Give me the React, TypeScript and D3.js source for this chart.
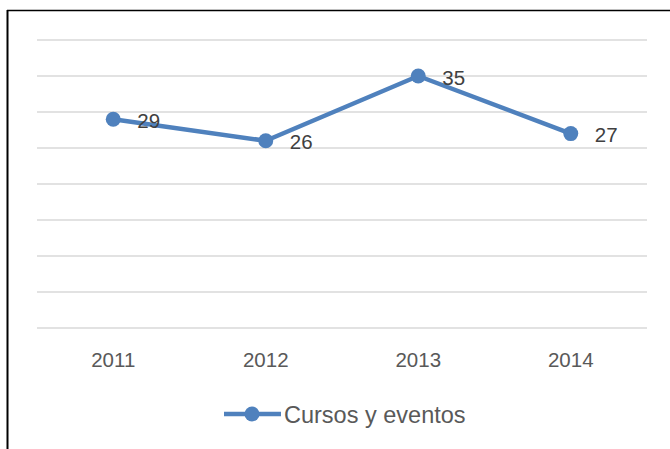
import React from "react";
import * as d3 from "d3";

const categories = ["2011", "2012", "2013", "2014"];
const values = [29, 26, 35, 27];
const yTicks = [0, 5, 10, 15, 20, 25, 30, 35, 40];
const seriesName = "Cursos y eventos";

const W = 670;
const H = 449;
const FONT = "'Liberation Sans', Arial, sans-serif";
const BLUE = "#4f81bd";

export default function App() {
  const x = d3.scaleBand<string>().domain(categories).range([37, 647]);
  const y = d3.scaleLinear().domain([0, 40]).range([328, 40]);
  const cx = (c: string) => (x(c) as number) + x.bandwidth() / 2;
  const line = d3
    .line<number>()
    .x((_, i) => cx(categories[i]))
    .y((d) => y(d));

  return (
    <svg
      width={W}
      height={H}
      style={{ position: "absolute", left: 0, top: 0, background: "#fff" }}
    >
      <rect x={0} y={0} width={W} height={H} fill="#fff" />
      {/* frame */}
      <line x1={7} x2={W} y1={10.5} y2={10.5} stroke="#000" strokeWidth={1.5} />
      <line x1={7.5} x2={7.5} y1={10} y2={H} stroke="#000" strokeWidth={2} />
      {/* gridlines */}
      {yTicks.map((t) => (
        <line
          key={t}
          x1={37}
          x2={647}
          y1={y(t)}
          y2={y(t)}
          stroke="#d9d9d9"
          strokeWidth={1.5}
        />
      ))}
      {/* category labels */}
      {categories.map((c) => (
        <text
          key={c}
          x={cx(c)}
          y={359}
          textAnchor="middle"
          dominantBaseline="central"
          fontFamily={FONT}
          fontSize={20.5}
          fill="#595959"
        >
          {c}
        </text>
      ))}
      {/* series line */}
      <path
        d={line(values) as string}
        fill="none"
        stroke={BLUE}
        strokeWidth={4.5}
        strokeLinejoin="round"
      />
      {values.map((v, i) => (
        <circle key={i} cx={cx(categories[i])} cy={y(v)} r={7.5} fill={BLUE} />
      ))}
      {values.map((v, i) => (
        <text
          key={"l" + i}
          x={cx(categories[i]) + 24}
          y={y(v) + 1}
          dominantBaseline="central"
          fontFamily={FONT}
          fontSize={20.5}
          fill="#404040"
        >
          {v}
        </text>
      ))}
      {/* legend */}
      <line x1={224} x2={281} y1={414} y2={414} stroke={BLUE} strokeWidth={4.5} />
      <circle cx={252} cy={414} r={7.5} fill={BLUE} />
      <text
        x={284}
        y={415}
        dominantBaseline="central"
        fontFamily={FONT}
        fontSize={23.5}
        fill="#595959"
      >
        {seriesName}
      </text>
    </svg>
  );
}
